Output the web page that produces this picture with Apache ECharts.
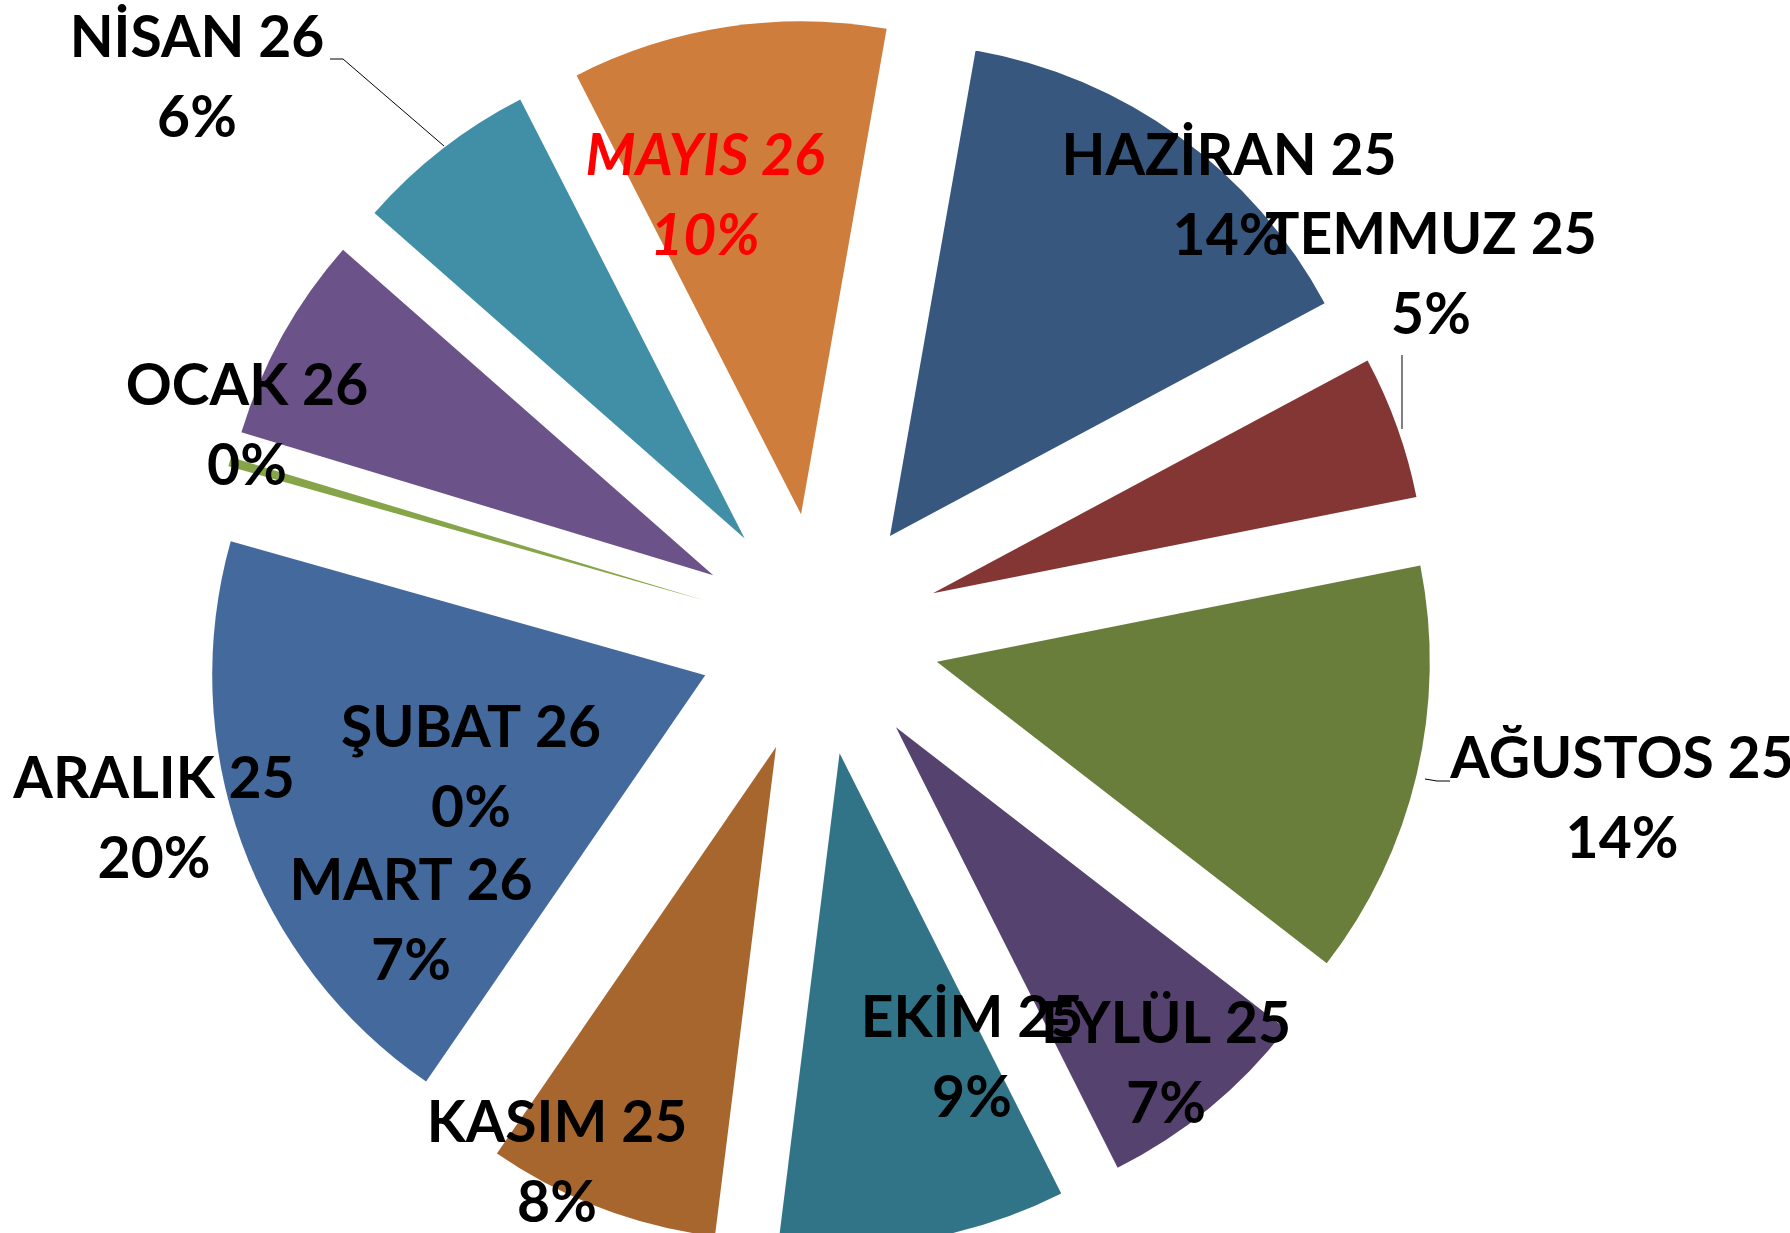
<!DOCTYPE html>
<html><head><meta charset="utf-8">
<script src="https://cdn.jsdelivr.net/npm/echarts@6/dist/echarts.min.js"></script>
<style>html,body{margin:0;padding:0;background:#fff}#c{width:1790px;height:1233px}</style>
</head><body><div id="c"></div>
<script>
// Data
const months = ['HAZİRAN 25','TEMMUZ 25','AĞUSTOS 25','EYLÜL 25','EKİM 25','KASIM 25','ARALIK 25','OCAK 26','ŞUBAT 26','MART 26','NİSAN 26','MAYIS 26'];
const shares = [14.4, 4.7, 13.6, 7.1, 9.4, 7.6, 19.8, 0, 0.3, 6.8, 6.0, 10.3];

// Styles / layout
const colors = ['#37577F','#843634','#6A7E3B','#55426E','#327487','#A8662F','#44699C','#C0504D','#86A548','#6B5389','#418FA6','#CF7D3C'];
const labelCenters = [[1229,197],[1431,276],[1622,800],[1166,1065],[972,1059],[557,1164],[154,820],[247,427],[471,769],[411,922],[197,79],[705,197]];
const leaderLines = {
  10: [[444,146],[343,59],[330,59]],
  1: [[1402,429],[1402,392],[1402,355]],
  2: [[1425,779],[1437,781],[1450,781]]
};
const highlightIndex = 11;

const pieGeom = { center: [819, 634], radius: 493, startAngle: 80, clockwise: true };

// Slices (exploded through selection offset)
const sliceData = months.map((m, i) => ({
  name: m, value: shares[i], selected: true, itemStyle: { color: colors[i] }
}));

// Same data, transparent slices, carrying the data labels
const labelData = months.map((m, i) => {
  const item = { name: m, value: shares[i] };
  if (leaderLines[i]) item.labelLine = { show: true, lineStyle: { color: '#000', width: 1 } };
  if (i === highlightIndex) item.label = { color: '#FF0000', fontStyle: 'italic' };
  return item;
});

const chart = echarts.init(document.getElementById('c'));
chart.setOption({
  animation: false,
  backgroundColor: '#fff',
  series: [{
    type: 'pie',
    ...pieGeom,
    selectedMode: 'multiple',
    selectedOffset: 121,
    emphasis: { disabled: true },
    label: { show: false },
    labelLine: { show: false },
    silent: true,
    data: sliceData
  }, {
    type: 'pie',
    ...pieGeom,
    z: 3,
    silent: true,
    avoidLabelOverlap: false,
    emphasis: { disabled: true },
    itemStyle: { color: 'rgba(0,0,0,0)' },
    label: {
      show: true,
      position: 'outside',
      fontFamily: 'Lato',
      fontWeight: 'bold',
      fontSize: 57,
      lineHeight: 80,
      color: '#000',
      formatter: p => p.name + '\n' + Math.round(p.percent) + '%'
    },
    labelLine: { show: false },
    labelLayout: function (params) {
      const i = params.dataIndex;
      const r = { x: labelCenters[i][0], y: labelCenters[i][1], align: 'center', verticalAlign: 'middle', hideOverlap: false };
      if (leaderLines[i]) r.labelLinePoints = leaderLines[i];
      return r;
    },
    data: labelData
  }]
});
</script></body></html>
